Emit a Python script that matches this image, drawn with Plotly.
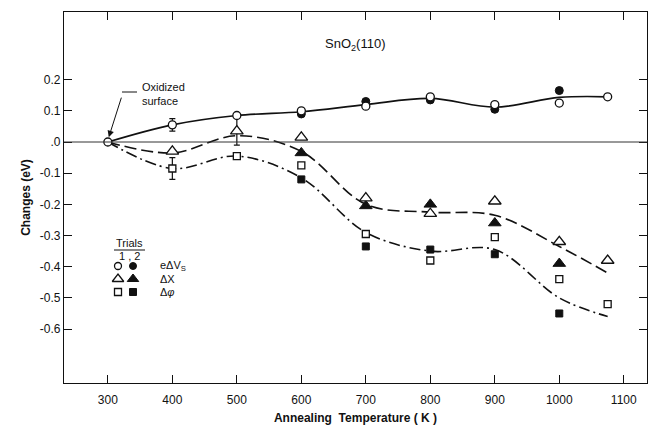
import plotly.graph_objects as go

# ---- data -------------------------------------------------------------
# Annealing temperatures (K)
temps1 = [300, 400, 500, 600, 700, 800, 900, 1000, 1075]
temps_tri1 = [400, 500, 600, 700, 800, 900, 1000, 1075]
temps2 = [600, 700, 800, 900, 1000]

# e dV_s (circles): trial 1 open, trial 2 filled
vs_trial1 = [0.0, 0.055, 0.085, 0.10, 0.115, 0.145, 0.12, 0.125, 0.145]
vs_trial2 = [0.09, 0.13, 0.135, 0.105, 0.165]

# d chi (triangles)
chi_trial1 = [-0.03, 0.035, 0.015, -0.18, -0.23, -0.19, -0.32, -0.38]
chi_trial2 = [-0.035, -0.205, -0.20, -0.26, -0.39]

# d phi (squares)
phi_trial1 = [-0.085, -0.045, -0.075, -0.295, -0.38, -0.305, -0.44, -0.52]
phi_trial2 = [-0.12, -0.335, -0.345, -0.36, -0.55]

# hand-fitted guide curves
curve_T = [300, 400, 500, 600, 700, 800, 900, 1000, 1075]
curve_vs = [0.0, 0.055, 0.085, 0.097, 0.12, 0.14, 0.112, 0.143, 0.145]
curve_chi = [0.0, -0.035, 0.02, -0.03, -0.2, -0.225, -0.235, -0.335, -0.42]
curve_phi = [0.0, -0.085, -0.045, -0.115, -0.29, -0.35, -0.345, -0.50, -0.56]

# error bars: (temperature, value, half-width)
err_T = [400, 400, 500]
err_y = [0.055, -0.085, 0.035]
err_size = [0.02, 0.035, 0.045]

x_ticks = [300, 400, 500, 600, 700, 800, 900, 1000, 1100]
y_ticks = [0.2, 0.1, 0.0, -0.1, -0.2, -0.3, -0.4, -0.5, -0.6]
y_tick_text = ["0.2", "0.1", ".0", "-0.1", "-0.2", "-0.3", "-0.4", "-0.5", "-0.6"]

# ---- figure -----------------------------------------------------------
W, H = 650, 430
L, R, T, B = 64, 3, 12, 47
INK = "#111111"
FONT = "Liberation Sans"

fig = go.Figure()

# guide curves
fig.add_trace(go.Scatter(x=curve_T, y=curve_vs, mode="lines",
                         line=dict(color=INK, width=1.7, shape="spline", smoothing=1.0)))
fig.add_trace(go.Scatter(x=curve_T, y=curve_chi, mode="lines",
                         line=dict(color=INK, width=1.6, shape="spline", smoothing=1.0,
                                   dash="12px,5px")))
fig.add_trace(go.Scatter(x=curve_T, y=curve_phi, mode="lines",
                         line=dict(color=INK, width=1.6, shape="spline", smoothing=1.0,
                                   dash="11px,4px,2px,4px")))

# error bars
fig.add_trace(go.Scatter(x=err_T, y=err_y, mode="markers",
                         marker=dict(size=1, color="rgba(0,0,0,0)"),
                         error_y=dict(type="data", array=err_size, visible=True,
                                      color=INK, thickness=1.2, width=3)))

open_style = dict(color="white", line=dict(color=INK, width=1.3))
fill_style = dict(color=INK, line=dict(color=INK, width=1))

fig.add_trace(go.Scatter(x=temps2, y=vs_trial2, mode="markers",
                         marker=dict(symbol="circle", size=8, **fill_style)))
fig.add_trace(go.Scatter(x=temps1, y=vs_trial1, mode="markers",
                         marker=dict(symbol="circle", size=8, **open_style)))
fig.add_trace(go.Scatter(x=temps2, y=chi_trial2, mode="markers",
                         marker=dict(symbol="triangle-up", size=11, **fill_style)))
fig.add_trace(go.Scatter(x=temps_tri1, y=chi_trial1, mode="markers",
                         marker=dict(symbol="triangle-up", size=11, **open_style)))
fig.add_trace(go.Scatter(x=temps2, y=phi_trial2, mode="markers",
                         marker=dict(symbol="square", size=7, **fill_style)))
fig.add_trace(go.Scatter(x=temps_tri1, y=phi_trial1, mode="markers",
                         marker=dict(symbol="square", size=7, **open_style)))

# legend block drawn on a pixel-unit overlay axis
leg_rows = [266, 279, 292]
leg_symbols = ["circle", "triangle-up", "square"]
leg_sizes = [7, 10, 7]
leg_text = ["eΔV<sub>S</sub>", "ΔΧ", "Δ<i>φ</i>"]
for yy, sym, sz in zip(leg_rows, leg_symbols, leg_sizes):
    fig.add_trace(go.Scatter(x=[118], y=[yy], xaxis="x2", yaxis="y2", mode="markers",
                             marker=dict(symbol=sym, size=sz, **open_style)))
    fig.add_trace(go.Scatter(x=[133], y=[yy], xaxis="x2", yaxis="y2", mode="markers",
                             marker=dict(symbol=sym, size=sz, **fill_style)))
for yy, txt in zip(leg_rows, leg_text):
    fig.add_annotation(x=158, y=yy, xref="x2", yref="y2", text=txt, showarrow=False,
                       xanchor="left", yanchor="middle",
                       font=dict(family=FONT, size=11, color=INK))
fig.add_annotation(x=129, y=243, xref="x2", yref="y2", text="Trials", showarrow=False,
                   font=dict(family=FONT, size=11, color=INK))
fig.add_annotation(x=129, y=256, xref="x2", yref="y2", text="1 , 2", showarrow=False,
                   font=dict(family=FONT, size=11, color=INK))
fig.add_shape(type="line", xref="x2", yref="y2", x0=114, x1=145, y0=250, y1=250,
              line=dict(color=INK, width=1))

# annotation text and arrow
fig.add_annotation(x=140, y=94, xref="x2", yref="y2",
                   text="Oxidized<br>surface", showarrow=False, align="left",
                   xanchor="left", yanchor="middle",
                   font=dict(family=FONT, size=11, color=INK))
fig.add_shape(type="line", xref="x2", yref="y2", x0=137, x1=122, y0=92, y1=92,
              line=dict(color=INK, width=1))
fig.add_annotation(x=300, y=0.006, xref="x", yref="y", ax=14, ay=-44,
                   showarrow=True, text="",
                   arrowhead=2, arrowsize=1.3, arrowwidth=1, arrowcolor=INK,
                   standoff=3)

# title
fig.add_annotation(x=355, y=44, xref="x2", yref="y2", text="SnO<sub>2</sub>(110)",
                   showarrow=False, font=dict(family=FONT, size=13, color=INK))

# zero line
fig.add_shape(type="line", xref="paper", yref="y", x0=0, x1=1, y0=0, y1=0,
              line=dict(color="#333333", width=1))

axis_common = dict(showgrid=False, zeroline=False, showline=True, linecolor=INK,
                   linewidth=1.2, mirror="ticks", ticks="inside", ticklen=8,
                   tickwidth=1.2, tickcolor=INK,
                   tickfont=dict(family=FONT, size=12, color=INK))

fig.update_layout(
    width=W, height=H,
    margin=dict(l=L, r=R, t=T, b=B, pad=0),
    paper_bgcolor="white", plot_bgcolor="white",
    showlegend=False,
    xaxis=dict(range=[232, 1136], tickvals=x_ticks, ticklabelstandoff=5,
               title=dict(text="<b>Annealing  Temperature ( K )</b>", standoff=8,
                          font=dict(family=FONT, size=12, color=INK)),
               **axis_common),
    yaxis=dict(range=[-0.773, 0.417], tickvals=y_ticks, ticktext=y_tick_text,
               title=dict(text="<b>Changes (eV)</b>", standoff=6,
                          font=dict(family=FONT, size=12, color=INK)),
               **axis_common),
    xaxis2=dict(range=[L, W - R], overlaying="x", visible=False, fixedrange=True),
    yaxis2=dict(range=[H - B, T], overlaying="y", visible=False, fixedrange=True),
)

fig.write_html("out.html")
